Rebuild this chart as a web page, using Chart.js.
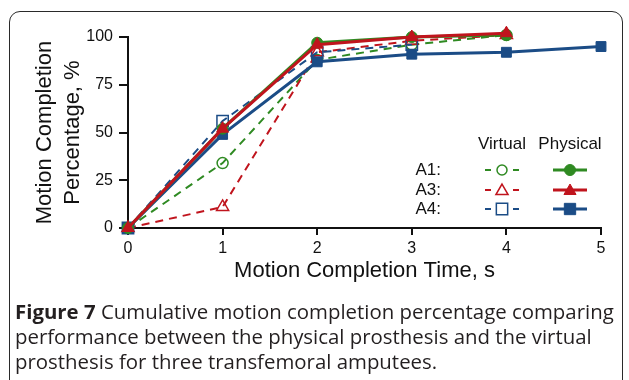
<!DOCTYPE html>
<html>
<head>
<meta charset="utf-8">
<script src="https://cdn.jsdelivr.net/npm/chart.js@4/dist/chart.umd.min.js"></script>
<style>
  html, body { margin: 0; padding: 0; background: #fff; }
  #wrap { position: relative; width: 629px; height: 380px; overflow: hidden; }
  #frame { position: absolute; left: 9px; top: 11px; width: 614px; height: 420px;
           border: 1.5px solid #2a2a2a; border-radius: 11px; box-sizing: border-box; }
  #c { position: absolute; left: 0; top: 0; }
  #cap { position: absolute; left: 15px; top: 299px; font-family: "Open Sans", sans-serif;
         font-size: 20.4px; line-height: 25px; color: #231f20; white-space: nowrap; }
  #cap b { font-weight: 700; }
</style>
</head>
<body>
<div id="wrap">
  <div id="frame"></div>
  <canvas id="c" width="629" height="380"></canvas>
  <div id="cap">
    <div><b>Figure 7</b> Cumulative motion completion percentage comparing</div>
    <div>performance between the physical prosthesis and the virtual</div>
    <div>prosthesis for three transfemoral amputees.</div>
  </div>
</div>
<script>
// ---- data ----
const times = [0, 1, 2, 3, 4, 5];
const xTickLabels = ['0', '1', '2', '3', '4', '5'];
const yTickValues = [0, 25, 50, 75, 100];
const seriesNames = ['A1', 'A3', 'A4'];
const a1Virtual  = [0, 34, 88, 96, 101];
const a3Virtual  = [0, 11, 92, 98, 101];
const a4Virtual  = [0, 56, 92, 96];
const a1Physical = [0, 52, 97, 100, 101];
const a3Physical = [0, 52, 96, 100, 102];
const a4Physical = [0, 49, 87, 91, 92, 95];

const GREEN = '#2f8a22', RED = '#c0141d', BLUE = '#1b4c86';

function pts(vals) { return vals.map((v, i) => ({ x: times[i], y: v })); }

function virtualDS(label, vals, color, style, r, order) {
  return { label, data: pts(vals), borderColor: color, borderWidth: 2, borderDash: [8, 6],
    pointStyle: style, pointRadius: r, pointBorderWidth: 1.5, pointBorderColor: color,
    pointBackgroundColor: 'rgba(255,255,255,0)', backgroundColor: color, fill: false,
    tension: 0, clip: false, order };
}
function physicalDS(label, vals, color, style, r, order) {
  return { label, data: pts(vals), borderColor: color, borderWidth: 3,
    pointStyle: style, pointRadius: r, pointBorderWidth: 1, pointBorderColor: color,
    pointBackgroundColor: color, backgroundColor: color, fill: false,
    tension: 0, clip: false, order };
}

const datasets = [
  virtualDS(seriesNames[0] + ' Virtual', a1Virtual, GREEN, 'circle', 5.5, 5),
  virtualDS(seriesNames[1] + ' Virtual', a3Virtual, RED, 'triangle', 7, 4),
  virtualDS(seriesNames[2] + ' Virtual', a4Virtual, BLUE, 'rect', 8, 3),
  physicalDS(seriesNames[0] + ' Physical', a1Physical, GREEN, 'circle', 5.5, 1),
  physicalDS(seriesNames[2] + ' Physical', a4Physical, BLUE, 'rect', 7, 2),
  physicalDS(seriesNames[1] + ' Physical', a3Physical, RED, 'triangle', 7, 0),
];

function drawMarker(ctx, style, x, y, r, fill, stroke, lw) {
  ctx.save();
  ctx.beginPath();
  if (style === 'circle') {
    ctx.arc(x, y, r, 0, Math.PI * 2);
  } else if (style === 'triangle') {
    const a = -Math.PI / 2;
    for (let k = 0; k < 3; k++) {
      const ang = a + k * 2 * Math.PI / 3;
      const px = x + r * Math.cos(ang), py = y + r * Math.sin(ang);
      if (k === 0) ctx.moveTo(px, py); else ctx.lineTo(px, py);
    }
    ctx.closePath();
  } else {
    const s = r * Math.SQRT1_2;
    ctx.rect(x - s, y - s, 2 * s, 2 * s);
  }
  if (fill) { ctx.fillStyle = fill; ctx.fill(); }
  ctx.lineWidth = lw; ctx.strokeStyle = stroke; ctx.stroke();
  ctx.restore();
}

const legendPlugin = {
  id: 'customLegend',
  afterDatasetsDraw(chart) {
    const ctx = chart.ctx;
    ctx.save();
    ctx.font = '17px "Liberation Sans", Arial, sans-serif';
    ctx.fillStyle = '#111';
    ctx.textBaseline = 'middle';
    ctx.textAlign = 'center';
    ctx.fillText('Virtual', 502, 144);
    ctx.fillText('Physical', 570, 144);
    const rows = [
      { name: seriesNames[0], color: GREEN, style: 'circle', rv: 5, rp: 5.5, y: 170 },
      { name: seriesNames[1], color: RED, style: 'triangle', rv: 7, rp: 7, y: 190 },
      { name: seriesNames[2], color: BLUE, style: 'rect', rv: 8, rp: 8, y: 209 },
    ];
    rows.forEach(r => {
      ctx.fillStyle = '#111';
      ctx.textAlign = 'right';
      ctx.fillText(r.name + ':', 441, r.y);
      // virtual
      ctx.strokeStyle = r.color; ctx.lineWidth = 2;
      ctx.beginPath();
      ctx.moveTo(485, r.y); ctx.lineTo(491, r.y);
      ctx.moveTo(513, r.y); ctx.lineTo(519, r.y);
      ctx.stroke();
      drawMarker(ctx, r.style, 502, r.y + (r.style === 'triangle' ? 1 : 0), r.rv, '#fff', r.color, 1.5);
      // physical
      ctx.strokeStyle = r.color; ctx.lineWidth = 3;
      ctx.beginPath(); ctx.moveTo(553, r.y); ctx.lineTo(587, r.y); ctx.stroke();
      drawMarker(ctx, r.style, 570, r.y + (r.style === 'triangle' ? 1 : 0), r.rp, r.color, r.color, 1);
    });
    ctx.restore();
  }
};

const FONT = '"Liberation Sans", Arial, sans-serif';

new Chart(document.getElementById('c'), {
  type: 'line',
  data: { datasets },
  plugins: [legendPlugin],
  options: {
    responsive: false,
    animation: false,
    events: [],
    layout: { padding: { left: 0, right: 28, top: 37, bottom: 96 } },
    plugins: { legend: { display: false }, tooltip: { enabled: false } },
    scales: {
      x: {
        type: 'linear', min: 0, max: 5,
        afterFit(s) { s.height = 56; },
        afterBuildTicks(s) { s.ticks = times.map(v => ({ value: v })); },
        ticks: { color: '#111', font: { family: FONT, size: 16 }, padding: 4,
                 callback: (v) => xTickLabels[times.indexOf(v)] },
        grid: { display: true, drawOnChartArea: false, drawTicks: true, tickLength: 7,
                color: '#111', lineWidth: 2 },
        border: { display: true, color: '#111', width: 2 },
        title: { display: true, text: 'Motion Completion Time, s', color: '#111',
                 font: { family: FONT, size: 22, lineHeight: 1.23 }, padding: { top: 0, bottom: 0 } }
      },
      y: {
        min: 0, max: 100,
        afterFit(s) { s.width = 128; },
        afterBuildTicks(s) { s.ticks = yTickValues.map(v => ({ value: v })); },
        ticks: { color: '#111', font: { family: FONT, size: 16 }, padding: 6 },
        grid: { display: true, drawOnChartArea: false, drawTicks: true, tickLength: 9,
                color: '#111', lineWidth: 2 },
        border: { display: true, color: '#111', width: 2 },
        title: { display: true, text: ['Motion Completion', 'Percentage, %'], color: '#111',
                 font: { family: FONT, size: 22, lineHeight: 1.27 }, padding: { top: 31, bottom: 0 } }
      }
    }
  }
});
</script>
</body>
</html>
